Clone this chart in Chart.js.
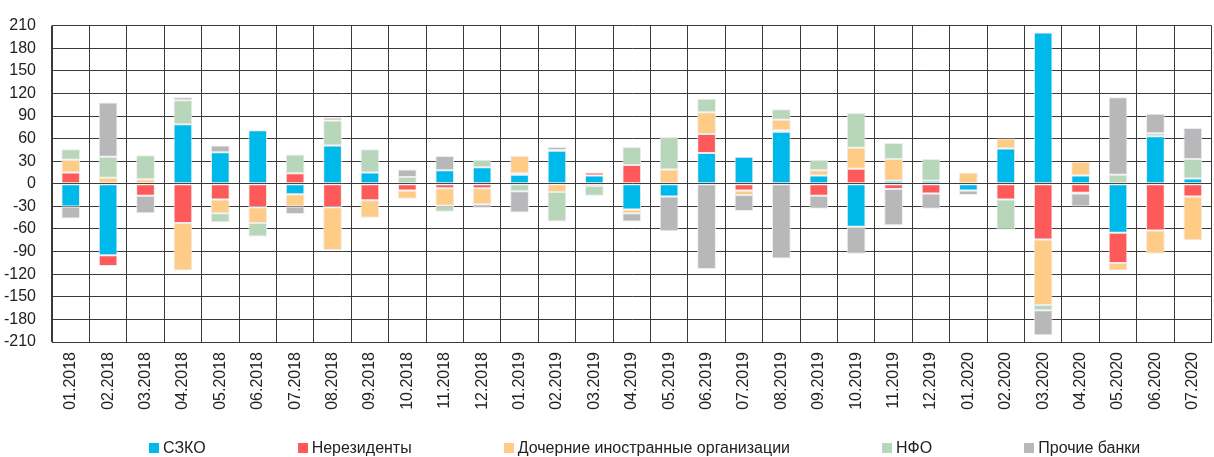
<!DOCTYPE html>
<html lang="ru">
<head>
<meta charset="utf-8">
<title>Потоки по группам участников</title>
<script src="https://cdn.jsdelivr.net/npm/chart.js@4.4.1/dist/chart.umd.min.js"></script>
<style>
    html, body { margin: 0; padding: 0; background: #fff; overflow: hidden; }
    #wrap { position: relative; width: 1214px; height: 457px; overflow: hidden; }
    #flowChart { position: absolute; left: 0; top: 0; }
    #legend {
        position: absolute; left: 149px; top: 438px;
        display: flex; gap: 92px;
        font-family: 'Liberation Sans', Arial, sans-serif;
        font-size: 16px; color: #222; line-height: 20px;
    }
    #legend .item { display: flex; align-items: center; white-space: nowrap; }
    #legend .box { width: 10px; height: 10px; margin-right: 4px; }
</style>
</head>
<body>
<div id="wrap">
    <canvas id="flowChart" width="1222" height="457"></canvas>
    <div id="legend"></div>
</div>
<script>
/**
 * Структура потоков по месяцам (стек по группам)
 */

const months = [
    '01.2018', '02.2018', '03.2018', '04.2018', '05.2018', '06.2018', '07.2018', '08.2018',
    '09.2018', '10.2018', '11.2018', '12.2018', '01.2019', '02.2019', '03.2019', '04.2019',
    '05.2019', '06.2019', '07.2019', '08.2019', '09.2019', '10.2019', '11.2019', '12.2019',
    '01.2020', '02.2020', '03.2020', '04.2020', '05.2020', '06.2020', '07.2020'
];

const szko =       [-30, -95, 0, 79, 42, 71, -14, 51, 15, 0, 18, 22, 12, 44, 11, -34, -17, 41, 36, 69, 11, -57, 4, 4, -9, 47, 201, 11, -65, 63, 7];
const nonResidents = [15, -14, -16, -52, -21, -31, 14, -31, -22, -9, -6, -6, 2, 1, 4, 25, 1, 25, -9, 2, -16, 20, -7, -13, 0, -21, -74, -12, -40, -62, -17];
const subsidiaries = [17, 8, 6, -63, -18, -21, -16, -57, -23, -11, -23, -21, 23, -11, -3, -5, 18, 29, -6, 14, 7, 28, 29, 0, 15, 13, -87, 18, -10, -31, -58];
const nfo =        [14, 28, 32, 32, -12, -18, 25, 33, 31, 9, -8, 10, -10, -39, -13, 24, 43, 18, 0, 14, 14, 46, 21, 29, 0, -40, -7, -1, 12, 4, 26];
const otherBanks = [-16, 72, -23, 4, 9, -1, -10, 4, 0, 10, 19, -5, -28, 4, 0, -11, -46, -113, -21, -99, -17, -36, -48, -20, -6, 0, -33, -17, 103, 26, 41];

const yTicks = [-210, -180, -150, -120, -90, -60, -30, 0, 30, 60, 90, 120, 150, 180, 210];

const fontFamily = "'Liberation Sans', Arial, sans-serif";

function makeSet(label, data, color) {
    return {
        label: label,
        data: data,
        backgroundColor: color,
        borderColor: 'rgba(236, 236, 236, 1)',
        borderWidth: 1,
        borderSkipped: false,
        categoryPercentage: 1.0,
        barPercentage: 0.5
    };
}

const datasets = [
    makeSet('СЗКО', szko, 'rgb(0, 185, 235)'),
    makeSet('Нерезиденты', nonResidents, 'rgb(255, 90, 90)'),
    makeSet('Дочерние иностранные организации', subsidiaries, 'rgb(255, 204, 136)'),
    makeSet('НФО', nfo, 'rgb(183, 214, 186)'),
    makeSet('Прочие банки', otherBanks, 'rgb(184, 184, 186)')
];

const ctx = document.getElementById('flowChart');

const chart = new Chart(ctx, {
    type: 'bar',
    data: {
        labels: months,
        datasets: datasets
    },
    options: {
        responsive: false,
        animation: false,
        layout: {
            padding: {top: 20, right: 0, bottom: 0, left: 0}
        },
        plugins: {
            legend: {display: false},
            tooltip: {enabled: false}
        },
        scales: {
            x: {
                stacked: true,
                grid: {
                    color: '#3a3a3a',
                    lineWidth: 1,
                    drawTicks: false
                },
                border: {color: '#3a3a3a'},
                ticks: {
                    autoSkip: false,
                    minRotation: 90,
                    maxRotation: 90,
                    padding: 10,
                    color: '#222',
                    font: {family: fontFamily, size: 16}
                },
                afterFit: function(scale) {
                    scale.height = 115;
                }
            },
            y: {
                stacked: true,
                min: -210,
                max: 210,
                afterBuildTicks: function(scale) {
                    scale.ticks = yTicks.map(v => ({value: v}));
                },
                grid: {
                    color: '#3a3a3a',
                    lineWidth: 1,
                    drawTicks: false
                },
                border: {color: '#3a3a3a'},
                ticks: {
                    padding: 16,
                    color: '#222',
                    font: {family: fontFamily, size: 16}
                },
                afterFit: function(scale) {
                    scale.width = 52;
                }
            }
        }
    }
});

// легенда под графиком
const legendBox = document.getElementById('legend');
chart.data.datasets.forEach(ds => {
    const item = document.createElement('div');
    item.className = 'item';
    const sw = document.createElement('span');
    sw.className = 'box';
    sw.style.background = ds.backgroundColor;
    const txt = document.createElement('span');
    txt.textContent = ds.label;
    item.appendChild(sw);
    item.appendChild(txt);
    legendBox.appendChild(item);
});
</script>
</body>
</html>
